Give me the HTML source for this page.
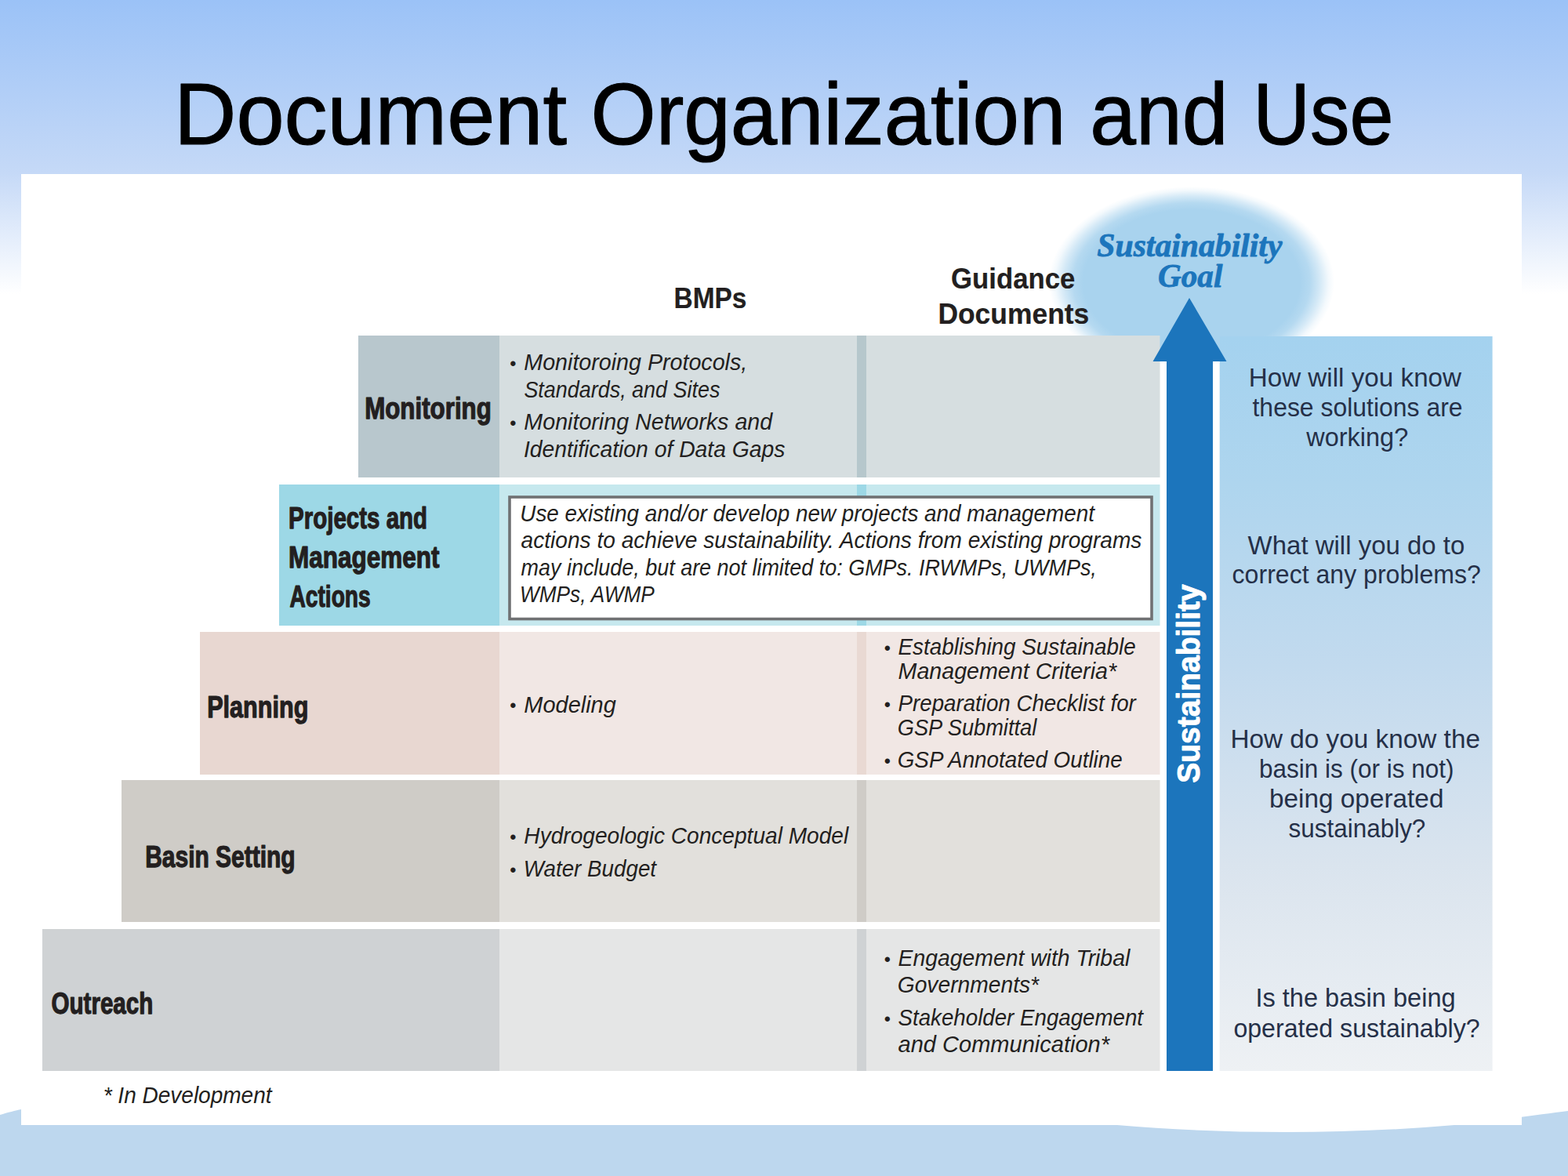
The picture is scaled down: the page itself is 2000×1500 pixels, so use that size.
<!DOCTYPE html>
<html lang="en">
<head>
<meta charset="utf-8">
<title>Document Organization and Use</title>
<style>
html,body{margin:0;padding:0;background:#ffffff;}
body{width:2000px;height:1500px;overflow:hidden;position:relative;}
svg text{white-space:pre;}
</style>
</head>
<body>
<svg width="2000" height="1500" viewBox="0 0 2000 1500" style="position:absolute;left:0;top:0;display:block">
<defs>
<linearGradient id="sky" x1="0" y1="0" x2="0" y2="1">
<stop offset="0" stop-color="#9bc2f7"/>
<stop offset="0.147" stop-color="#c5d9f7"/>
<stop offset="0.25" stop-color="#ffffff"/>
<stop offset="1" stop-color="#ffffff"/>
</linearGradient>
<linearGradient id="panel" x1="0" y1="0" x2="0" y2="1">
<stop offset="0" stop-color="#a4d2ef"/>
<stop offset="0.2" stop-color="#aed5ee"/>
<stop offset="0.45" stop-color="#c2daee"/>
<stop offset="0.72" stop-color="#dae4ee"/>
<stop offset="1" stop-color="#eef1f4"/>
</linearGradient>
<radialGradient id="glow" cx="0.5" cy="0.5" r="0.5">
<stop offset="0" stop-color="#a9d3ee"/>
<stop offset="0.76" stop-color="#a9d3ee"/>
<stop offset="0.83" stop-color="#a9d3ee" stop-opacity="0.86"/>
<stop offset="0.90" stop-color="#a9d3ee" stop-opacity="0.5"/>
<stop offset="0.96" stop-color="#a9d3ee" stop-opacity="0.14"/>
<stop offset="1" stop-color="#a9d3ee" stop-opacity="0"/>
</radialGradient>
</defs>
<rect x="0" y="0" width="2000" height="1500" fill="url(#sky)" />
<path d="M0 1422 C 10 1419, 20 1416.5, 27 1415 C 300 1380, 900 1398, 1425 1435 C 1560 1447, 1720 1447, 1855 1435 C 1900 1430.5, 1960 1422, 2000 1417 L2000 1500 L0 1500 Z" fill="#bdd7ee"/>
<rect x="27" y="222" width="1914" height="1213" fill="#ffffff" />
<ellipse cx="1520" cy="360" rx="182" ry="122" fill="url(#glow)"/>
<rect x="1479" y="461" width="77" height="905" fill="#ffffff" />
<rect x="457" y="428" width="180" height="181" fill="#b8c7cd" />
<rect x="637" y="428" width="842.5" height="181" fill="#d6dee0" />
<rect x="1093" y="428" width="12" height="181" fill="#b6c7cc" />
<rect x="356" y="618" width="281" height="180" fill="#9dd8e6" />
<rect x="637" y="618" width="842.5" height="180" fill="#c6e8ee" />
<rect x="1093" y="618" width="12" height="180" fill="#9dd8e6" />
<rect x="255" y="806" width="382" height="182" fill="#e8d7d1" />
<rect x="637" y="806" width="842.5" height="182" fill="#f1e7e4" />
<rect x="1093" y="806" width="12" height="182" fill="#e9d9d3" />
<rect x="155" y="995" width="482" height="181" fill="#cfccc7" />
<rect x="637" y="995" width="842.5" height="181" fill="#e2e0dc" />
<rect x="1093" y="995" width="12" height="181" fill="#cfccc7" />
<rect x="54" y="1185" width="583" height="181" fill="#cfd2d4" />
<rect x="637" y="1185" width="842.5" height="181" fill="#e5e6e6" />
<rect x="1093" y="1185" width="12" height="181" fill="#cfd2d4" />
<rect x="650" y="634" width="819" height="155.5" fill="#ffffff" stroke="#707173" stroke-width="3.6"/>
<rect x="1555.7" y="429" width="347.9" height="937" fill="url(#panel)" />
<path d="M1517 380 L1564.5 461 L1547 461 L1547 1366 L1488 1366 L1488 461 L1470.5 461 Z" fill="#1c75bc"/>
<text x="222.01" y="184" font-family='"Liberation Sans", "DejaVu Sans", sans-serif' font-size="112" fill="#000000" textLength="501.01" lengthAdjust="spacingAndGlyphs" stroke="#000000" stroke-width="1.2" stroke-linejoin="round">Document</text>
<text x="753.59" y="184" font-family='"Liberation Sans", "DejaVu Sans", sans-serif' font-size="112" fill="#000000" textLength="605.81" lengthAdjust="spacingAndGlyphs" stroke="#000000" stroke-width="1.2" stroke-linejoin="round">Organization</text>
<text x="1390.30" y="184" font-family='"Liberation Sans", "DejaVu Sans", sans-serif' font-size="112" fill="#000000" textLength="176.02" lengthAdjust="spacingAndGlyphs" stroke="#000000" stroke-width="1.2" stroke-linejoin="round">and</text>
<text x="1598.30" y="184" font-family='"Liberation Sans", "DejaVu Sans", sans-serif' font-size="112" fill="#000000" textLength="179.18" lengthAdjust="spacingAndGlyphs" stroke="#000000" stroke-width="1.2" stroke-linejoin="round">Use</text>
<text x="859.61" y="392.8" font-family='"Liberation Sans", "DejaVu Sans", sans-serif' font-size="36.3" fill="#231f20" textLength="92.84" lengthAdjust="spacingAndGlyphs" font-weight="700" stroke="#231f20" stroke-width="0.2" stroke-linejoin="round">BMPs</text>
<text x="1213.01" y="368" font-family='"Liberation Sans", "DejaVu Sans", sans-serif' font-size="36.3" fill="#231f20" textLength="158.35" lengthAdjust="spacingAndGlyphs" font-weight="700" stroke="#231f20" stroke-width="0.2" stroke-linejoin="round">Guidance</text>
<text x="1196.39" y="412.6" font-family='"Liberation Sans", "DejaVu Sans", sans-serif' font-size="36.3" fill="#231f20" textLength="192.95" lengthAdjust="spacingAndGlyphs" font-weight="700" stroke="#231f20" stroke-width="0.2" stroke-linejoin="round">Documents</text>
<text x="1399.35" y="327" font-family='"Liberation Serif", "DejaVu Serif", serif' font-size="41.5" fill="#1c75bc" textLength="236.06" lengthAdjust="spacingAndGlyphs" font-weight="700" font-style="italic" stroke="#1c75bc" stroke-width="0.8" stroke-linejoin="round">Sustainability</text>
<text x="1477.11" y="366.2" font-family='"Liberation Serif", "DejaVu Serif", serif' font-size="41.5" fill="#1c75bc" textLength="82.24" lengthAdjust="spacingAndGlyphs" font-weight="700" font-style="italic" stroke="#1c75bc" stroke-width="0.8" stroke-linejoin="round">Goal</text>
<text x="465.17" y="533.8" font-family='"Liberation Sans", "DejaVu Sans", sans-serif' font-size="39" fill="#231f20" textLength="161.71" lengthAdjust="spacingAndGlyphs" font-weight="700" stroke="#231f20" stroke-width="1.25" stroke-linejoin="round">Monitoring</text>
<text x="368.08" y="673.9" font-family='"Liberation Sans", "DejaVu Sans", sans-serif' font-size="39" fill="#231f20" textLength="176.98" lengthAdjust="spacingAndGlyphs" font-weight="700" stroke="#231f20" stroke-width="1.25" stroke-linejoin="round">Projects and</text>
<text x="367.96" y="723.5" font-family='"Liberation Sans", "DejaVu Sans", sans-serif' font-size="39" fill="#231f20" textLength="192.47" lengthAdjust="spacingAndGlyphs" font-weight="700" stroke="#231f20" stroke-width="1.25" stroke-linejoin="round">Management</text>
<text x="369.49" y="773.5" font-family='"Liberation Sans", "DejaVu Sans", sans-serif' font-size="39" fill="#231f20" textLength="103.23" lengthAdjust="spacingAndGlyphs" font-weight="700" stroke="#231f20" stroke-width="1.25" stroke-linejoin="round">Actions</text>
<text x="264.21" y="914.8" font-family='"Liberation Sans", "DejaVu Sans", sans-serif' font-size="39" fill="#231f20" textLength="129.12" lengthAdjust="spacingAndGlyphs" font-weight="700" stroke="#231f20" stroke-width="1.25" stroke-linejoin="round">Planning</text>
<text x="185.15" y="1105.7" font-family='"Liberation Sans", "DejaVu Sans", sans-serif' font-size="39" fill="#231f20" textLength="191.54" lengthAdjust="spacingAndGlyphs" font-weight="700" stroke="#231f20" stroke-width="1.25" stroke-linejoin="round">Basin Setting</text>
<text x="65.50" y="1293.3" font-family='"Liberation Sans", "DejaVu Sans", sans-serif' font-size="39" fill="#231f20" textLength="129.80" lengthAdjust="spacingAndGlyphs" font-weight="700" stroke="#231f20" stroke-width="1.25" stroke-linejoin="round">Outreach</text>
<text x="650.37" y="472.10" font-family='"Liberation Sans", "DejaVu Sans", sans-serif' font-size="23.47" fill="#231f20">•</text>
<text x="668.35" y="472.2" font-family='"Liberation Sans", "DejaVu Sans", sans-serif' font-size="30.3" fill="#231f20" textLength="284.88" lengthAdjust="spacingAndGlyphs" font-style="italic">Monitoroing Protocols,</text>
<text x="668.38" y="507" font-family='"Liberation Sans", "DejaVu Sans", sans-serif' font-size="30.3" fill="#231f20" textLength="250.04" lengthAdjust="spacingAndGlyphs" font-style="italic">Standards, and Sites</text>
<text x="650.37" y="548.20" font-family='"Liberation Sans", "DejaVu Sans", sans-serif' font-size="23.47" fill="#231f20">•</text>
<text x="668.35" y="548.3" font-family='"Liberation Sans", "DejaVu Sans", sans-serif' font-size="30.3" fill="#231f20" textLength="316.87" lengthAdjust="spacingAndGlyphs" font-style="italic">Monitoring Networks and</text>
<text x="667.92" y="582.7" font-family='"Liberation Sans", "DejaVu Sans", sans-serif' font-size="30.3" fill="#231f20" textLength="333.53" lengthAdjust="spacingAndGlyphs" font-style="italic">Identification of Data Gaps</text>
<text x="663.26" y="665.2" font-family='"Liberation Sans", "DejaVu Sans", sans-serif' font-size="29.6" fill="#231f20" textLength="732.78" lengthAdjust="spacingAndGlyphs" font-style="italic">Use existing and/or develop new projects and management</text>
<text x="664.56" y="699.4" font-family='"Liberation Sans", "DejaVu Sans", sans-serif' font-size="29.6" fill="#231f20" textLength="791.88" lengthAdjust="spacingAndGlyphs" font-style="italic">actions to achieve sustainability. Actions from existing programs</text>
<text x="664.58" y="733.7" font-family='"Liberation Sans", "DejaVu Sans", sans-serif' font-size="29.6" fill="#231f20" textLength="734.27" lengthAdjust="spacingAndGlyphs" font-style="italic">may include, but are not limited to: GMPs. IRWMPs, UWMPs,</text>
<text x="662.96" y="768.3" font-family='"Liberation Sans", "DejaVu Sans", sans-serif' font-size="29.6" fill="#231f20" textLength="171.91" lengthAdjust="spacingAndGlyphs" font-style="italic">WMPs, AWMP</text>
<text x="650.37" y="908.40" font-family='"Liberation Sans", "DejaVu Sans", sans-serif' font-size="23.47" fill="#231f20">•</text>
<text x="668.35" y="908.5" font-family='"Liberation Sans", "DejaVu Sans", sans-serif' font-size="30.3" fill="#231f20" textLength="117.47" lengthAdjust="spacingAndGlyphs" font-style="italic">Modeling</text>
<text x="1127.77" y="834.90" font-family='"Liberation Sans", "DejaVu Sans", sans-serif' font-size="23.47" fill="#231f20">•</text>
<text x="1145.57" y="835" font-family='"Liberation Sans", "DejaVu Sans", sans-serif' font-size="30.3" fill="#231f20" textLength="303.13" lengthAdjust="spacingAndGlyphs" font-style="italic">Establishing Sustainable</text>
<text x="1145.55" y="865.7" font-family='"Liberation Sans", "DejaVu Sans", sans-serif' font-size="30.3" fill="#231f20" textLength="278.51" lengthAdjust="spacingAndGlyphs" font-style="italic">Management Criteria*</text>
<text x="1127.77" y="906.90" font-family='"Liberation Sans", "DejaVu Sans", sans-serif' font-size="23.47" fill="#231f20">•</text>
<text x="1145.57" y="907" font-family='"Liberation Sans", "DejaVu Sans", sans-serif' font-size="30.3" fill="#231f20" textLength="303.27" lengthAdjust="spacingAndGlyphs" font-style="italic">Preparation Checklist for</text>
<text x="1144.73" y="938" font-family='"Liberation Sans", "DejaVu Sans", sans-serif' font-size="30.3" fill="#231f20" textLength="177.52" lengthAdjust="spacingAndGlyphs" font-style="italic">GSP Submittal</text>
<text x="1127.77" y="978.90" font-family='"Liberation Sans", "DejaVu Sans", sans-serif' font-size="23.47" fill="#231f20">•</text>
<text x="1144.71" y="979" font-family='"Liberation Sans", "DejaVu Sans", sans-serif' font-size="30.3" fill="#231f20" textLength="286.98" lengthAdjust="spacingAndGlyphs" font-style="italic">GSP Annotated Outline</text>
<text x="650.37" y="1075.90" font-family='"Liberation Sans", "DejaVu Sans", sans-serif' font-size="23.47" fill="#231f20">•</text>
<text x="668.36" y="1076" font-family='"Liberation Sans", "DejaVu Sans", sans-serif' font-size="30.3" fill="#231f20" textLength="413.86" lengthAdjust="spacingAndGlyphs" font-style="italic">Hydrogeologic Conceptual Model</text>
<text x="650.37" y="1117.90" font-family='"Liberation Sans", "DejaVu Sans", sans-serif' font-size="23.47" fill="#231f20">•</text>
<text x="667.83" y="1118" font-family='"Liberation Sans", "DejaVu Sans", sans-serif' font-size="30.3" fill="#231f20" textLength="169.21" lengthAdjust="spacingAndGlyphs" font-style="italic">Water Budget</text>
<text x="1127.77" y="1231.90" font-family='"Liberation Sans", "DejaVu Sans", sans-serif' font-size="23.47" fill="#231f20">•</text>
<text x="1145.56" y="1232" font-family='"Liberation Sans", "DejaVu Sans", sans-serif' font-size="30.3" fill="#231f20" textLength="295.65" lengthAdjust="spacingAndGlyphs" font-style="italic">Engagement with Tribal</text>
<text x="1144.68" y="1266" font-family='"Liberation Sans", "DejaVu Sans", sans-serif' font-size="30.3" fill="#231f20" textLength="180.40" lengthAdjust="spacingAndGlyphs" font-style="italic">Governments*</text>
<text x="1127.77" y="1307.90" font-family='"Liberation Sans", "DejaVu Sans", sans-serif' font-size="23.47" fill="#231f20">•</text>
<text x="1145.57" y="1308" font-family='"Liberation Sans", "DejaVu Sans", sans-serif' font-size="30.3" fill="#231f20" textLength="312.47" lengthAdjust="spacingAndGlyphs" font-style="italic">Stakeholder Engagement</text>
<text x="1145.55" y="1342" font-family='"Liberation Sans", "DejaVu Sans", sans-serif' font-size="30.3" fill="#231f20" textLength="269.50" lengthAdjust="spacingAndGlyphs" font-style="italic">and Communication*</text>
<text x="131.69" y="1407" font-family='"Liberation Sans", "DejaVu Sans", sans-serif' font-size="30.3" fill="#231f20" textLength="214.84" lengthAdjust="spacingAndGlyphs" font-style="italic">* In Development</text>
<text x="1592.70" y="493" font-family='"Liberation Sans", "DejaVu Sans", sans-serif' font-size="32.8" fill="#253048" textLength="271.39" lengthAdjust="spacingAndGlyphs">How will you know</text>
<text x="1597.50" y="530.6" font-family='"Liberation Sans", "DejaVu Sans", sans-serif' font-size="32.8" fill="#253048" textLength="268.09" lengthAdjust="spacingAndGlyphs">these solutions are</text>
<text x="1666.31" y="569" font-family='"Liberation Sans", "DejaVu Sans", sans-serif' font-size="32.8" fill="#253048" textLength="129.90" lengthAdjust="spacingAndGlyphs">working?</text>
<text x="1591.60" y="706.5" font-family='"Liberation Sans", "DejaVu Sans", sans-serif' font-size="32.8" fill="#253048" textLength="276.74" lengthAdjust="spacingAndGlyphs">What will you do to</text>
<text x="1571.60" y="743.8" font-family='"Liberation Sans", "DejaVu Sans", sans-serif' font-size="32.8" fill="#253048" textLength="317.20" lengthAdjust="spacingAndGlyphs">correct any problems?</text>
<text x="1569.40" y="954.4" font-family='"Liberation Sans", "DejaVu Sans", sans-serif' font-size="32.8" fill="#253048" textLength="318.55" lengthAdjust="spacingAndGlyphs">How do you know the</text>
<text x="1606.03" y="992.3" font-family='"Liberation Sans", "DejaVu Sans", sans-serif' font-size="32.8" fill="#253048" textLength="248.60" lengthAdjust="spacingAndGlyphs">basin is (or is not)</text>
<text x="1618.92" y="1030.3" font-family='"Liberation Sans", "DejaVu Sans", sans-serif' font-size="32.8" fill="#253048" textLength="222.56" lengthAdjust="spacingAndGlyphs">being operated</text>
<text x="1643.51" y="1068.3" font-family='"Liberation Sans", "DejaVu Sans", sans-serif' font-size="32.8" fill="#253048" textLength="174.87" lengthAdjust="spacingAndGlyphs">sustainably?</text>
<text x="1601.46" y="1284" font-family='"Liberation Sans", "DejaVu Sans", sans-serif' font-size="32.8" fill="#253048" textLength="255.17" lengthAdjust="spacingAndGlyphs">Is the basin being</text>
<text x="1573.40" y="1322.8" font-family='"Liberation Sans", "DejaVu Sans", sans-serif' font-size="32.8" fill="#253048" textLength="314.20" lengthAdjust="spacingAndGlyphs">operated sustainably?</text>
<text transform="translate(1529.8 998.6) rotate(-90)" x="-0.11" y="0" font-family='"Liberation Sans", "DejaVu Sans", sans-serif' font-size="40.5" fill="#ffffff" textLength="253.36" lengthAdjust="spacingAndGlyphs" font-weight="700" stroke="#ffffff" stroke-width="1.0" stroke-linejoin="round">Sustainability</text>
</svg>
</body>
</html>
